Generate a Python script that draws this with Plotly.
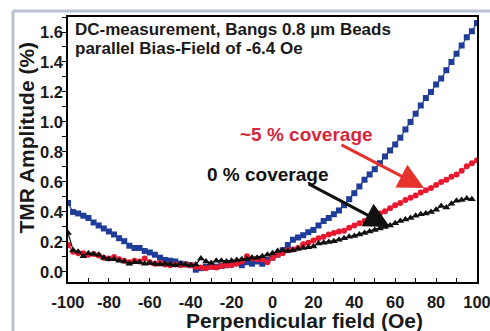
import plotly.graph_objects as go

field = [-100 + 2.5 * i for i in range(81)]

blue_vals = [0.46, 0.40, 0.39, 0.375, 0.36, 0.33, 0.31, 0.29, 0.27, 0.25,
             0.225, 0.205, 0.175, 0.16, 0.16, 0.14, 0.13, 0.115, 0.095, 0.08,
             0.075, 0.07, 0.055, 0.05, 0.045, 0.015, 0.025, 0.035, 0.035, 0.035,
             0.04, 0.045, 0.055, 0.06, 0.045, 0.065, 0.055, 0.07, 0.055, 0.08,
             0.095,
             0.115, 0.145, 0.18, 0.215, 0.23, 0.245, 0.265, 0.28, 0.31, 0.34,
             0.36, 0.385, 0.41, 0.445, 0.485, 0.525, 0.57, 0.615, 0.65, 0.685,
             0.725, 0.77, 0.81, 0.85, 0.895, 0.95, 1.0, 1.055, 1.11, 1.16,
             1.2, 1.25, 1.29, 1.345, 1.4, 1.455, 1.51, 1.565, 1.605, 1.66]

red_vals = [0.18, 0.135, 0.125, 0.125, 0.115, 0.12, 0.11, 0.095, 0.09, 0.1,
            0.085, 0.075, 0.065, 0.075, 0.07, 0.09, 0.065, 0.055, 0.06, 0.05,
            0.045, 0.05, 0.045, 0.05, 0.045, 0.035, 0.03, 0.025, 0.035, 0.03,
            0.04, 0.045, 0.045, 0.055, 0.07, 0.105, 0.09, 0.085, 0.085, 0.065,
            0.095,
            0.115, 0.125, 0.145, 0.15, 0.16, 0.185, 0.195, 0.21, 0.225, 0.235,
            0.25, 0.26, 0.27, 0.275, 0.295, 0.31, 0.325, 0.34, 0.36, 0.37,
            0.39, 0.405, 0.425, 0.445, 0.46, 0.48, 0.495, 0.51, 0.53, 0.545,
            0.56, 0.58, 0.6, 0.615, 0.635, 0.65, 0.675, 0.705, 0.725, 0.745]

black_vals = [0.26, 0.145, 0.135, 0.105, 0.125, 0.12, 0.115, 0.095, 0.085, 0.085,
              0.075, 0.07, 0.055, 0.065, 0.065, 0.055, 0.06, 0.055, 0.05, 0.055,
              0.05, 0.045, 0.055, 0.05, 0.045, 0.05, 0.09, 0.07, 0.06, 0.075,
              0.075, 0.07, 0.075, 0.08, 0.085, 0.085, 0.095, 0.095, 0.105, 0.115,
              0.125,
              0.14, 0.145, 0.14, 0.145, 0.155, 0.16, 0.165, 0.17, 0.19, 0.195,
              0.2, 0.205, 0.215, 0.225, 0.235, 0.24, 0.25, 0.26, 0.27, 0.28,
              0.29, 0.3, 0.31, 0.325, 0.34, 0.35, 0.36, 0.375, 0.385, 0.39,
              0.4, 0.415, 0.44, 0.43, 0.455, 0.475, 0.48, 0.49, 0.485]

x_ticks = [-100, -80, -60, -40, -20, 0, 20, 40, 60, 80, 100]
x_tick_text = ["-100", "-80", "-60", "-40", "-20", "0", "20", "40", "60", "80", "100"]
y_ticks = [0.0, 0.2, 0.4, 0.6, 0.8, 1.0, 1.2, 1.4, 1.6]
y_tick_text = ["0.0", "0.2", "0.4", "0.6", "0.8", "1.0", "1.2", "1.4", "1.6"]

FONT = "Liberation Sans, Arial, sans-serif"
BLUE = "#1f3c98"
RED = "#e8182f"
BLACK = "#111111"

fig = go.Figure()
fig.add_trace(go.Scatter(x=field, y=blue_vals, mode="lines+markers",
                         line=dict(color=BLUE, width=1.2),
                         marker=dict(symbol="square", size=6, color=BLUE)))
fig.add_trace(go.Scatter(x=field, y=red_vals, mode="lines+markers",
                         line=dict(color=RED, width=1.2),
                         marker=dict(symbol="circle", size=6, color=RED)))
fig.add_trace(go.Scatter(x=field, y=black_vals, mode="lines+markers",
                         line=dict(color=BLACK, width=1.2),
                         marker=dict(symbol="triangle-up", size=7, color=BLACK)))

fig.update_layout(
    width=490, height=331,
    margin=dict(l=68, r=13, t=17, b=49),
    paper_bgcolor="white", plot_bgcolor="white",
    showlegend=False,
    font=dict(family=FONT, color="#1a1a1a"),
    xaxis=dict(range=[-100, 100], showgrid=False, zeroline=False, automargin=False,
               showline=True, linecolor="black", linewidth=1.5, mirror=True,
               tickmode="array", tickvals=x_ticks, ticktext=x_tick_text,
               ticks="inside", ticklen=4, tickwidth=1, tickcolor="black",
               minor=dict(dtick=10, ticks="inside", ticklen=4, tickcolor="black", showgrid=False),
               tickfont=dict(size=16.5, family=FONT, weight="bold", color="#1a1a1a"),
               ticklabelstandoff=4, ticklabeloverflow="allow"),
    yaxis=dict(range=[-0.067, 1.70], showgrid=False, zeroline=False, automargin=False,
               showline=True, linecolor="black", linewidth=1.5, mirror=True,
               tickmode="array", tickvals=y_ticks, ticktext=y_tick_text,
               ticks="outside", ticklen=4, tickwidth=1, tickcolor="black",
               minor=dict(dtick=0.1, ticks="outside", ticklen=4, tickcolor="black", showgrid=False),
               tickfont=dict(size=16.5, family=FONT, weight="bold", color="#1a1a1a"),
               ticklabelstandoff=-4),
)

bold = lambda s, c="#1a1a1a": dict(size=s, family=FONT, weight="bold", color=c)

annotations = [
    dict(text="DC-measurement, Bangs 0.8 µm Beads", xref="paper", yref="paper",
         x=0.0122, y=0.9547, xanchor="left", yanchor="middle", showarrow=False, font=bold(17)),
    dict(text="parallel Bias-Field of -6.4 Oe", xref="paper", yref="paper",
         x=0.0122, y=0.883, xanchor="left", yanchor="middle", showarrow=False, font=bold(17)),
    dict(text="~5 % coverage", xref="paper", yref="paper",
         x=0.584, y=0.555, xanchor="center", yanchor="middle", showarrow=False,
         font=bold(19, "#d4283a")),
    dict(text="0 % coverage", xref="paper", yref="paper",
         x=0.488, y=0.404, xanchor="center", yanchor="middle", showarrow=False,
         font=bold(19, "#111111")),
    dict(text="Perpendicular field (Oe)", xref="paper", yref="paper",
         x=0.578, y=-0.147, xanchor="center", yanchor="middle", showarrow=False,
         font=bold(21)),
    dict(text="TMR Amplitude (%)", xref="paper", yref="paper", textangle=-90,
         x=-0.1002, y=0.545, xanchor="center", yanchor="middle", showarrow=False,
         font=bold(21)),
    dict(text="", x=74.1, y=0.56, xref="x", yref="y", ax=33.0, ay=0.853,
         axref="x", ayref="y", showarrow=True, arrowhead=2, arrowsize=1.7,
         arrowwidth=3, arrowcolor="#e5322d", standoff=0),
    dict(text="", x=57.5, y=0.30, xref="x", yref="y", ax=16.9, ay=0.593,
         axref="x", ayref="y", showarrow=True, arrowhead=2, arrowsize=1.7,
         arrowwidth=3, arrowcolor="#111111", standoff=0),
]
fig.update_layout(annotations=annotations)

frame_color = "#b7c2d2"
fig.add_shape(type="line", xref="paper", yref="paper", x0=-0.1345, x1=-0.1345,
              y0=1.0226, y1=-0.2, line=dict(color=frame_color, width=3))
fig.add_shape(type="line", xref="paper", yref="paper", x0=-0.1345, x1=1.05,
              y0=1.0226, y1=1.0226, line=dict(color=frame_color, width=3))

fig.write_html("out.html")
